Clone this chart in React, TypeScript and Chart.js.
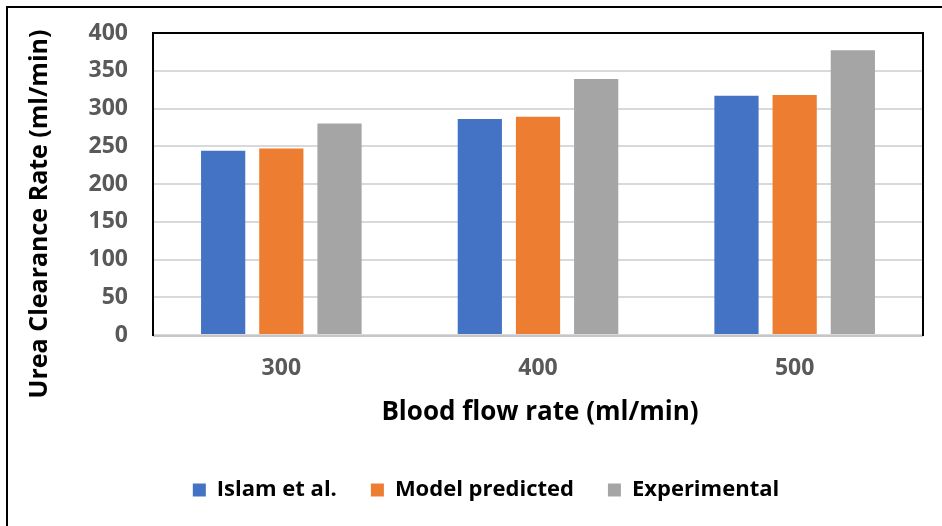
import React, { useEffect, useRef } from "react";
import { Chart, registerables } from "chart.js";

Chart.register(...registerables);

// Blood flow rates (ml/min) on the category axis
const flowRates = ["300", "400", "500"];

// Urea clearance rate (ml/min) for each source
const islamEtAl = [244, 286, 317];
const modelPredicted = [247, 289, 318];
const experimental = [280, 339, 377];

const seriesNames = ["Islam et al.", "Model predicted", "Experimental"];
const seriesColors = ["#4472C4", "#ED7D31", "#A5A5A5"];

const yTicks = { min: 0, max: 400, step: 50 };

const xTitle = "Blood flow rate (ml/min)";
const yTitle = "Urea Clearance Rate (ml/min)";

const FONT = "'Open Sans', 'Noto Sans', sans-serif";

// Frame around the figure, plot-area border and both axis titles
const decorations = {
  id: "decorations",
  afterDatasetsDraw(chart: any) {
    const { ctx, chartArea } = chart;
    const { left, right, top, bottom } = chartArea;
    ctx.save();
    // light grey baseline
    ctx.strokeStyle = "#c6c6c6";
    ctx.lineWidth = 2;
    ctx.beginPath();
    ctx.moveTo(left, bottom + 1);
    ctx.lineTo(right, bottom + 1);
    ctx.stroke();
    // black border on left, top and right
    ctx.strokeStyle = "#000";
    ctx.lineWidth = 2;
    ctx.beginPath();
    ctx.moveTo(left, bottom + 1);
    ctx.lineTo(left, top);
    ctx.lineTo(right, top);
    ctx.lineTo(right, bottom + 1);
    ctx.stroke();
    ctx.restore();
  },
  afterDraw(chart: any) {
    const { ctx, chartArea } = chart;
    ctx.save();
    // outer frame
    ctx.strokeStyle = "#000";
    ctx.lineWidth = 2;
    ctx.beginPath();
    ctx.moveTo(7, chart.height);
    ctx.lineTo(7, 7);
    ctx.lineTo(chart.width, 7);
    ctx.stroke();
    // axis titles
    ctx.fillStyle = "#000";
    ctx.textAlign = "center";
    ctx.textBaseline = "middle";
    ctx.font = `bold 26px ${FONT}`;
    ctx.fillText(xTitle, (chartArea.left + chartArea.right) / 2 + 2, 413);
    ctx.font = `bold 25px ${FONT}`;
    ctx.translate(40, 214);
    ctx.rotate(-Math.PI / 2);
    ctx.fillText(yTitle, 0, 0);
    ctx.restore();
  },
};

export default function App() {
  const canvasRef = useRef<HTMLCanvasElement | null>(null);

  useEffect(() => {
    document.body.style.margin = "0";
    const canvas = canvasRef.current;
    if (!canvas) return;
    const series = [islamEtAl, modelPredicted, experimental];
    const chart = new Chart(canvas, {
      type: "bar",
      data: {
        labels: flowRates,
        datasets: series.map((values, i) => ({
          label: seriesNames[i],
          data: values,
          backgroundColor: seriesColors[i],
          borderWidth: 0,
          categoryPercentage: 0.68,
          barPercentage: 0.76,
          yAxisID: "y",
        })),
      },
      options: {
        responsive: false,
        animation: false,
        layout: { padding: { left: 30, right: 0, top: 33, bottom: 15 } },
        plugins: {
          tooltip: { enabled: false },
          legend: {
            display: true,
            position: "bottom",
            labels: {
              boxWidth: 13,
              boxHeight: 13,
              padding: 34,
              color: "#000",
              font: { family: FONT, size: 22, weight: "bold" },
            },
          },
        },
        scales: {
          x: {
            grid: { display: false, drawTicks: false },
            border: { display: false },
            ticks: {
              padding: 20,
              color: "#595959",
              font: { family: FONT, size: 23, weight: "bold" },
            },
            afterFit(scale: any) {
              scale.height = 110;
            },
          },
          y: {
            position: "left",
            min: yTicks.min,
            max: yTicks.max,
            grid: {
              color: "#d9d9d9",
              lineWidth: 2,
              drawTicks: true,
              tickLength: 25,
              tickColor: "rgba(0,0,0,0)",
            },
            border: { display: false },
            ticks: {
              stepSize: yTicks.step,
              padding: 0,
              color: "#595959",
              font: { family: FONT, size: 23, weight: "bold" },
            },
            afterFit(scale: any) {
              scale.width = 123;
            },
          },
          yRight: {
            position: "right",
            display: true,
            grid: { display: false, drawTicks: false },
            border: { display: false },
            ticks: { display: false, padding: 0 },
            afterFit(scale: any) {
              scale.width = 19;
            },
          },
        },
      },
      plugins: [decorations],
    });
    return () => chart.destroy();
  }, []);

  return (
    <div style={{ width: 942, height: 526 }}>
      <canvas ref={canvasRef} width={942} height={526} />
    </div>
  );
}
